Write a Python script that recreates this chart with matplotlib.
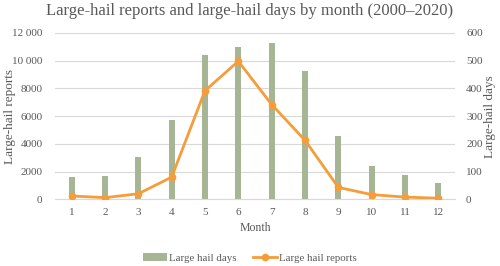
import numpy as np
import matplotlib.pyplot as plt
from matplotlib.ticker import FuncFormatter

plt.rcParams['font.family'] = ['Liberation Serif', 'DejaVu Serif']

months = [1, 2, 3, 4, 5, 6, 7, 8, 9, 10, 11, 12]
hail_days = [1580, 1700, 3060, 5690, 10410, 11000, 11310, 9280, 4540, 2410, 1770, 1150]
hail_reports = [12, 6, 20, 80, 392, 498, 342, 213, 43, 17, 8, 4]

grey = '#595959'
bar_col = '#a6b593'
line_col = '#f59d3a'

fig = plt.figure(figsize=(5, 2.66), dpi=100)
ax = fig.add_axes([0.11, 0.2507, 0.80, 0.6253])
ax2 = ax.twinx()

b = ax.bar(months, hail_days, width=0.18, color=bar_col, zorder=2, label='Large hail days')
l, = ax2.plot(months, hail_reports, color=line_col, lw=2, marker='o', ms=4.5,
              zorder=3, label='Large hail reports')

ax.set_xlim(0.5, 12.5)
ax.set_ylim(0, 12000)
ax2.set_ylim(0, 600)
ax.set_yticks(np.arange(0, 12001, 2000))
ax2.set_yticks(np.arange(0, 601, 100))
ax.set_xticks(months)

def fmt(v, pos):
    v = int(v)
    if v >= 10000:
        return f'{v // 1000} {v % 1000:03d}'
    return str(v)

ax.yaxis.set_major_formatter(FuncFormatter(fmt))
ax.grid(axis='y', color='#d9d9d9', lw=0.8, zorder=0)
ax.set_axisbelow(True)

for a in (ax, ax2):
    for s in a.spines.values():
        s.set_visible(False)
    a.tick_params(length=0, labelsize=8, colors=grey)
ax.spines['bottom'].set_visible(True)
ax.spines['bottom'].set_color('#d9d9d9')
ax.tick_params(axis='x', pad=6)
ax.tick_params(axis='y', pad=9)
ax2.tick_params(axis='y', pad=8)

ax.set_ylabel('Large-hail reports', fontsize=9.5, color=grey, va='center')
ax2.set_ylabel('Large-hail days', fontsize=9.5, color=grey, va='center')
ax.yaxis.set_label_coords(-0.1125, 0.5)
ax2.yaxis.set_label_coords(1.0875, 0.5)
ax.set_xlabel('Month', fontsize=8.5, color=grey, labelpad=4)

fig.suptitle('Large-hail reports and large-hail days by month (2000\u20132020)',
             fontsize=12, color=grey, y=0.99)

fig.legend([b, l], ['Large hail days', 'Large hail reports'], loc='center',
           bbox_to_anchor=(0.5, 0.03), ncol=2, frameon=False, fontsize=7.8,
           labelcolor=grey, handlelength=2.2, columnspacing=1.5, handletextpad=0.2)

fig.savefig('out.png', dpi=100)
